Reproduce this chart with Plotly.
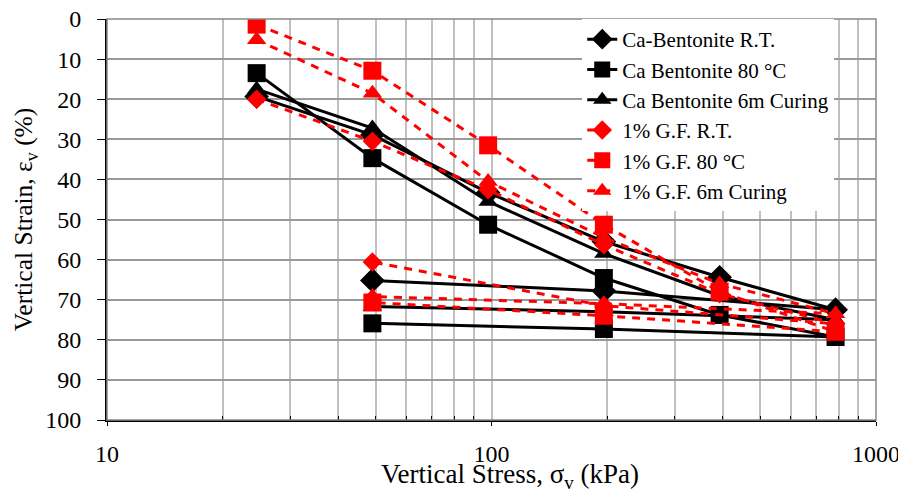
import plotly.graph_objects as go

# Loading / unloading stress steps (kPa)
stress = [24.5, 49, 98, 196, 392, 785, 196, 49]

ca_rt = [19.3, 28.9, 43.3, 55.5, 64.4, 72.5, 67.8, 65.2]
ca_80 = [13.5, 34.7, 51.3, 64.6, 73.8, 79.3, 77.3, 75.9]
ca_6m = [17.5, 27.2, 45.5, 58.5, 69.0, 75.0, 73.0, 71.7]
gf_rt = [20.0, 30.5, 42.6, 56.3, 68.5, 76.0, 71.5, 60.6]
gf_80 = [1.4, 12.9, 31.5, 51.3, 68.0, 78.0, 74.0, 70.7]
gf_6m = [5.2, 18.5, 40.5, 54.5, 66.0, 73.5, 71.0, 69.2]

x_tickvals = [10, 100, 1000]
x_ticktext = ["10", "100", "1000"]
x_minor = [20, 30, 40, 50, 60, 70, 80, 90, 200, 300, 400, 500, 600, 700, 800, 900]
y_tickvals = list(range(0, 101, 10))

FONT = "Liberation Serif"

series = [
    ("Ca-Bentonite R.T.", ca_rt, "black", "solid", "diamond", 19),
    ("Ca Bentonite 80 °C", ca_80, "black", "solid", "square", 18),
    ("Ca Bentonite 6m Curing", ca_6m, "black", "solid", "triangle-up", 17),
    ("1% G.F. R.T.", gf_rt, "red", "dash", "diamond", 15),
    ("1% G.F. 80 °C", gf_80, "red", "dash", "square", 18),
    ("1% G.F. 6m Curing", gf_6m, "red", "dash", "triangle-up", 17),
]

fig = go.Figure()
for name, vals, col, dash, sym, size in series:
    line_col = "#ff0000" if col == "red" else "black"
    fig.add_trace(go.Scatter(
        x=stress, y=vals, name=name, mode="lines+markers",
        line=dict(color=line_col, width=3, dash="8px,7px" if dash == "dash" else "solid"),
        marker=dict(symbol=sym, size=size, color=line_col, line=dict(width=0)),
    ))

# page has an 8px body margin, so the figure is 898x481 placed at (8, 8)
fig.update_layout(
    width=898, height=481,
    margin=dict(l=99, r=30, t=11, b=69, autoexpand=False),
    paper_bgcolor="white", plot_bgcolor="white",
    font=dict(family=FONT, size=23, color="black"),
    showlegend=True,
    legend=dict(
        x=0.618, y=1.0, xanchor="left", yanchor="top",
        bgcolor="white", borderwidth=0,
        font=dict(family=FONT, size=21, color="black"),
        tracegroupgap=0, itemwidth=30,
    ),
    xaxis=dict(
        type="log", range=[1, 3], automargin=False,
        tickvals=x_tickvals, ticktext=x_ticktext,
        showgrid=True, gridcolor="#c0c0c0", gridwidth=1.5,
        minor=dict(tickvals=x_minor, showgrid=True, gridcolor="#c0c0c0", gridwidth=1.5,
                   ticks="inside", ticklen=4, tickcolor="black"),
        showline=True, linecolor="black", linewidth=2,
        ticks="outside", ticklen=4, tickcolor="black",
        ticklabelstandoff=7, ticklabeloverflow="allow",
        tickfont=dict(family=FONT, size=24),
        zeroline=False,
    ),
    yaxis=dict(
        range=[100, 0], automargin=False,
        tickvals=y_tickvals,
        showgrid=True, gridcolor="#999999", gridwidth=1.5,
        showline=True, linecolor="black", linewidth=2,
        ticks="outside", ticklen=8, tickcolor="black",
        ticklabelstandoff=11, ticklabeloverflow="allow",
        tickfont=dict(family=FONT, size=24),
        zeroline=False,
    ),
    annotations=[
        dict(text="Vertical Stress, σ<sub>v</sub> (kPa)", xref="paper", yref="paper",
             x=0.524, y=-0.092, xanchor="center", yanchor="top", showarrow=False,
             font=dict(family=FONT, size=27)),
        dict(text="Vertical Strain, ε<sub>v</sub> (%)", xref="paper", yref="paper",
             x=-0.107, y=0.5, xanchor="center", yanchor="middle", showarrow=False,
             textangle=-90, font=dict(family=FONT, size=25.5)),
    ],
    shapes=[dict(type="rect", xref="paper", yref="paper", x0=0, y0=0, x1=1, y1=1,
                 line=dict(color="#888888", width=1.5), layer="above")],
)

fig.write_html("out.html")
